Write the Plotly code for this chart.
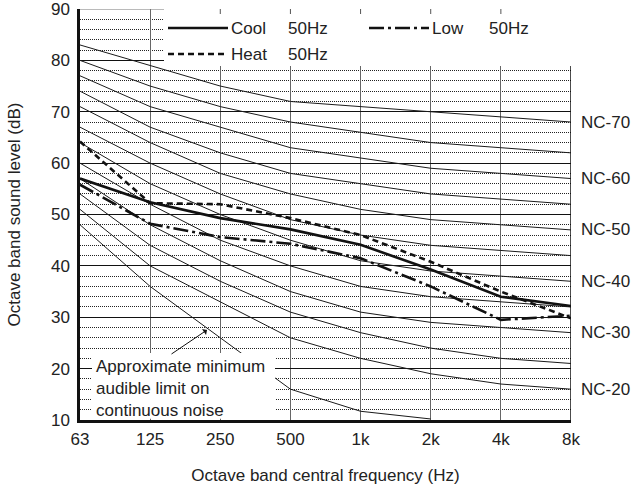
import plotly.graph_objects as go

# ---------------- data ----------------
freq_labels = ["63", "125", "250", "500", "1k", "2k", "4k", "8k"]

nc_20 = [51, 40, 33, 26, 22, 19, 17, 16]
nc_25 = [54, 44, 37, 31, 27, 24, 22, 21]
nc_30 = [57, 48, 41, 35, 31, 29, 28, 27]
nc_35 = [60, 52, 45, 40, 36, 34, 33, 32]
nc_40 = [64, 56, 50, 45, 41, 39, 38, 37]
nc_45 = [67, 60, 54, 49, 46, 44, 43, 42]
nc_50 = [71, 64, 58, 54, 51, 49, 48, 47]
nc_55 = [74, 67, 62, 58, 56, 54, 53, 52]
nc_60 = [77, 71, 67, 63, 61, 59, 58, 57]
nc_65 = [80, 75, 71, 68, 66, 64, 63, 62]
nc_70 = [83, 79, 75, 72, 71, 70, 69, 68]

nc_names = ["NC-20", "NC-25", "NC-30", "NC-35", "NC-40", "NC-45",
            "NC-50", "NC-55", "NC-60", "NC-65", "NC-70"]
nc_curves = [nc_20, nc_25, nc_30, nc_35, nc_40, nc_45,
             nc_50, nc_55, nc_60, nc_65, nc_70]
nc_labelled = ["NC-20", "NC-30", "NC-40", "NC-50", "NC-60", "NC-70"]

min_audible = [48, 36, 26, 16, 11.7, 10.2]   # 63 Hz .. 2 kHz

cool_50 = [57.0, 52.4, 49.3, 47.1, 44.1, 39.3, 34.0, 32.2]
heat_50 = [64.2, 52.2, 52.0, 49.3, 46.0, 40.8, 35.0, 29.8]
low_50 = [55.8, 48.2, 45.6, 44.3, 41.5, 36.0, 29.5, 30.3]

series_suffix = "50Hz"

# ---------------- helpers (plot area: x 80..571 px, y 9..420 px) ----------------
X0, X1, Y0, Y1 = 80.0, 571.0, 9.0, 420.0


def px2x(px):
    return (px - X0) / (X1 - X0) * 7.0


def px2y(py):
    return 90.0 - (py - Y0) / (Y1 - Y0) * 80.0


FONT = "Liberation Sans, Arial, sans-serif"
TXT = "#222222"
FS = 17

xs = list(range(len(freq_labels)))

fig = go.Figure()

# NC curves
for name, vals in zip(nc_names, nc_curves):
    fig.add_trace(go.Scatter(x=xs, y=vals, mode="lines", name=name,
                             line=dict(color="#1a1a1a", width=1),
                             showlegend=False, hoverinfo="skip"))

# minimum audible limit curve
fig.add_trace(go.Scatter(x=xs[:len(min_audible)], y=min_audible, mode="lines",
                         name="Approximate minimum audible limit",
                         line=dict(color="#1a1a1a", width=1),
                         showlegend=False))

DASH_HEAT = "6px,4px"
DASH_LOW = "15px,4px,3px,4px"

fig.add_trace(go.Scatter(x=xs, y=cool_50, mode="lines", name="Cool 50Hz",
                         line=dict(color="#111111", width=2.6), showlegend=False))
fig.add_trace(go.Scatter(x=xs, y=heat_50, mode="lines", name="Heat 50Hz",
                         line=dict(color="#111111", width=2.6, dash=DASH_HEAT),
                         showlegend=False))
fig.add_trace(go.Scatter(x=xs, y=low_50, mode="lines", name="Low 50Hz",
                         line=dict(color="#111111", width=2.6, dash=DASH_LOW),
                         showlegend=False))

shapes = []
annotations = []

# frame: right and top edges
shapes.append(dict(type="line", xref="x", yref="y", x0=7, x1=7, y0=10, y1=90,
                   line=dict(color="#111111", width=1.5), layer="between"))
shapes.append(dict(type="line", xref="x", yref="y", x0=0, x1=7, y0=90, y1=90,
                   line=dict(color="#777777", width=1), layer="between"))

# legend box (white) + samples
shapes.append(dict(type="rect", xref="x", yref="y",
                   x0=px2x(164), x1=px2x(572), y0=px2y(66), y1=px2y(8),
                   fillcolor="white", line=dict(width=0), layer="above"))
# small top ticks showing through the legend box
for xv in xs[2:7]:
    shapes.append(dict(type="line", xref="x", yref="y", x0=xv, x1=xv,
                       y0=90, y1=px2y(Y0 + 5),
                       line=dict(color="#555555", width=1), layer="above"))

legend_rows = [
    (168, 28, None, "Cool"),
    (168, 54, DASH_HEAT, "Heat"),
    (369, 28, DASH_LOW, "Low"),
]
for (lx, ly, dash, label) in legend_rows:
    ln = dict(color="#111111", width=2.6)
    if dash:
        ln["dash"] = dash
    shapes.append(dict(type="line", xref="x", yref="y",
                       x0=px2x(lx), x1=px2x(lx + 60), y0=px2y(ly), y1=px2y(ly),
                       line=ln, layer="above"))
    annotations.append(dict(xref="x", yref="y", x=px2x(lx + 61), y=px2y(ly),
                            text=label, showarrow=False, xanchor="left",
                            yanchor="middle", font=dict(size=FS, color=TXT, family=FONT)))
    annotations.append(dict(xref="x", yref="y", x=px2x(lx + 118), y=px2y(ly),
                            text=series_suffix, showarrow=False, xanchor="left",
                            yanchor="middle", font=dict(size=FS, color=TXT, family=FONT)))

# white box for the minimum audible limit note
shapes.append(dict(type="rect", xref="x", yref="y",
                   x0=px2x(92), x1=px2x(275), y0=10.25, y1=px2y(353),
                   fillcolor="white", line=dict(width=0), layer="above"))
annotations.append(dict(xref="x", yref="y", x=px2x(94), y=px2y(388),
                        text="Approximate minimum<br>audible limit on<br>continuous noise",
                        showarrow=False, xanchor="left", yanchor="middle", align="left",
                        font=dict(size=FS, color=TXT, family=FONT)))
annotations.append(dict(xref="x", yref="y", axref="x", ayref="y",
                        x=px2x(207), y=px2y(330), ax=px2x(170), ay=px2y(355),
                        text="", showarrow=True, arrowhead=1, arrowsize=1.2,
                        arrowwidth=1, arrowcolor="#111111"))

# NC labels on the right
for name, vals in zip(nc_names, nc_curves):
    if name in nc_labelled:
        annotations.append(dict(xref="x", yref="y", x=7, y=vals[-1], xshift=8,
                                text=name, showarrow=False, xanchor="left",
                                yanchor="middle",
                                font=dict(size=FS, color=TXT, family=FONT)))

fig.update_layout(
    width=631, height=485,
    margin=dict(l=80, r=60, t=9, b=65, autoexpand=False),
    paper_bgcolor="white", plot_bgcolor="white",
    font=dict(family=FONT, size=FS, color=TXT),
    showlegend=False,
    shapes=shapes, annotations=annotations,
    xaxis=dict(range=[0, 7], tickvals=xs, ticktext=freq_labels,
               automargin=False, ticklabeloverflow="allow",
               showgrid=True, gridcolor="#666666", gridwidth=1,
               zeroline=False, showline=True, linecolor="#111111", linewidth=2.5,
               ticks="", ticklabelstandoff=2,
               tickfont=dict(size=FS, color=TXT, family=FONT),
               title=dict(text="Octave band central frequency (Hz)",
                          font=dict(size=FS, color=TXT, family=FONT), standoff=23)),
    yaxis=dict(range=[10, 90], tickvals=[10, 20, 30, 40, 50, 60, 70, 80, 90],
               automargin=False, ticklabeloverflow="allow",
               showgrid=True, gridcolor="#111111", gridwidth=1,
               minor=dict(dtick=2, showgrid=True, gridcolor="#222222",
                          griddash="1px,1px", gridwidth=1),
               zeroline=False, showline=True, linecolor="#111111", linewidth=2.5,
               ticks="", ticklabelstandoff=4,
               tickfont=dict(size=FS, color=TXT, family=FONT),
               title=dict(text="Octave band sound level (dB)",
                          font=dict(size=FS, color=TXT, family=FONT), standoff=26)),
)

# remove the default page margin so the figure fills the window exactly
fig.write_html("out.html", config={"displayModeBar": False},
               post_script="document.body.style.margin='0';")
